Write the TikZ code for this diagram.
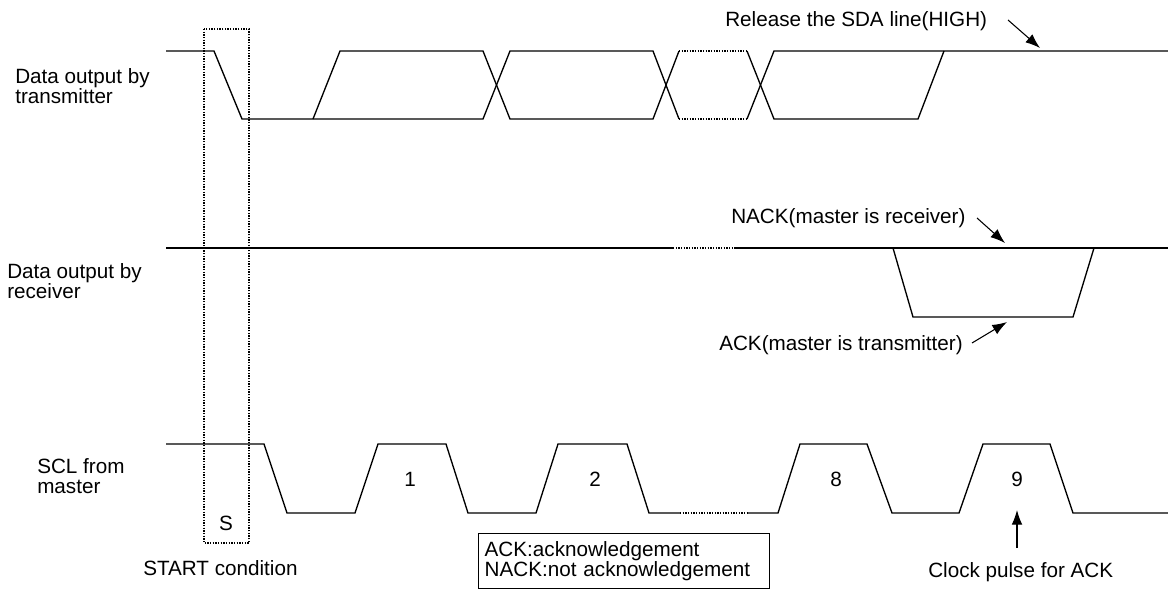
\documentclass[tikz,border=0pt]{standalone}
\usepackage{fontspec}
\setmainfont{Liberation Sans}
\usetikzlibrary{arrows.meta}
\tikzset{
  wave/.style={line width=1pt, line join=miter},
  dots/.style={line width=1pt, densely dotted},
  lbl/.style={inner sep=0pt, anchor=base west, align=left, font=\fontsize{15.5}{15}\selectfont},
  num/.style={inner sep=0pt, anchor=base, font=\fontsize{15.5}{15}\selectfont},
  pointer/.style={line width=0.8pt, -{Latex[length=11pt,width=8pt]}},
}
\begin{document}
\begin{tikzpicture}[x=0.75pt, y=-0.75pt]
\useasboundingbox (0,0) rectangle (1168,590);
% --- data output by transmitter ---
\draw[wave] (166,51) -- (214,51) -- (242,119) -- (483,119) -- (510,51) -- (653,51) -- (679,119);
\draw[dots] (679,119) -- (747,119);
\draw[wave] (747,119) -- (774,51) -- (1168,51);
\draw[wave] (313,119) -- (340,51) -- (483,51) -- (510,119) -- (653,119) -- (679,51);
\draw[dots] (679,51) -- (747,51);
\draw[wave] (747,51) -- (774,119) -- (918,119) -- (944,51);
% --- data output by receiver ---
\draw[wave] (166,248) -- (673,248);
\draw[dots] (673,248) -- (735,248);
\draw[wave] (735,248) -- (1168,248);
\draw[wave] (893,248) -- (913,317) -- (1073,317) -- (1094,248);
% --- SCL ---
\draw[wave] (166,444) -- (264,444) -- (287,513) -- (355,513) -- (378,444) -- (446,444) -- (468,513) -- (536,513) -- (558,444) -- (627,444) -- (649,513) -- (680,513);
\draw[dots] (680,513) -- (748,513);
\draw[wave] (748,513) -- (778,513) -- (800,444) -- (867,444) -- (892,513) -- (959,513) -- (983,444) -- (1050,444) -- (1073,513) -- (1168,513);
% --- START condition box ---
\draw[dots] (204,29) rectangle (249,543);
% --- labels ---
\node[lbl] (ltx1) at (15,83) {Data output by};
\node[lbl] (ltx2) at (15,103) {transmitter};
\node[lbl] (lrx1) at (7,278) {Data output by};
\node[lbl] (lrx2) at (7,298) {receiver};
\node[lbl] (lscl1) at (37,473) {SCL from};
\node[lbl] (lscl2) at (37,493) {master};
\node[num] (n1) at (410,486) {1};
\node[num] (n2) at (595,486) {2};
\node[num] (n8) at (836,486) {8};
\node[num] (n9) at (1017,486) {9};
\node[num] (nS) at (226,530) {S};
\node[lbl] (start) at (143,575) {START condition};
\node[lbl] (release) at (725,26) {Release the SDA line(HIGH)};
\node[lbl] (nack) at (731,223) {NACK(master is receiver)};
\node[lbl] (ack) at (719,350) {ACK(master is transmitter)};
\node[lbl] (clock) at (928,577) {Clock pulse for ACK};
\node[draw, line width=0.8pt, anchor=north west, inner xsep=4.5pt, inner ysep=0pt,
      minimum width=218.25pt, minimum height=41.25pt, text width=209pt, align=left,
      font=\fontsize{15.5}{14.5}\selectfont] (legend) at (478,533)
      {ACK:acknowledgement\\NACK:not acknowledgement};
% --- pointers ---
\coordinate (relS) at (1008,20);  \coordinate (relE) at (1040,48);
\coordinate (nackS) at (977,218); \coordinate (nackE) at (1005,243);
\coordinate (ackS) at (972,343);  \coordinate (ackE) at (1007,322);
\coordinate (clkS) at (1017,548); \coordinate (clkE) at (1017,510);
\draw[pointer] (relS) -- (relE);
\draw[pointer] (nackS) -- (nackE);
\draw[pointer] (ackS) -- (ackE);
\draw[pointer] (clkS) -- (clkE);
\end{tikzpicture}
\end{document}
